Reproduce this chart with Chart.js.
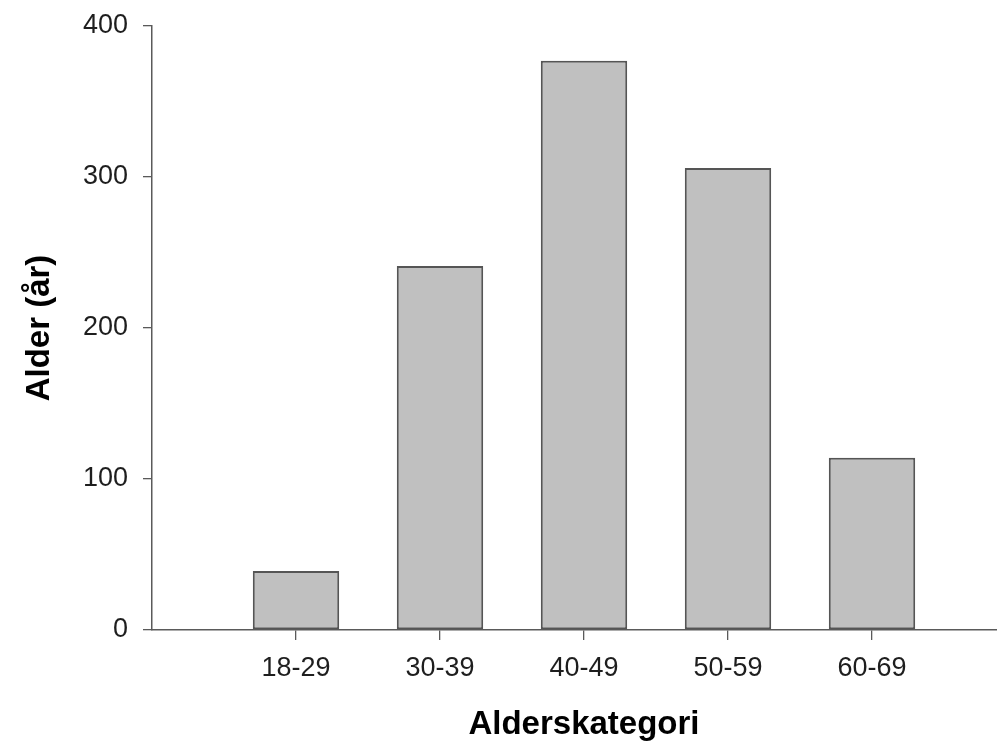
<!DOCTYPE html>
<html>
<head>
<meta charset="utf-8">
<script src="https://cdn.jsdelivr.net/npm/chart.js@4"></script>
<style>
  html, body { margin: 0; padding: 0; background: #ffffff; overflow: hidden; }
  #wrap { width: 997px; height: 745px; overflow: hidden; position: relative; }
  #box { width: 1016px; height: 745px; position: absolute; left: 0; top: 0; }
</style>
</head>
<body>
<div id="wrap"><div id="box"><canvas id="c"></canvas></div></div>
<script>
const categories = ['18-29', '30-39', '40-49', '50-59', '60-69'];
const values = [39, 241, 377, 306, 114];
const yTicks = [0, 100, 200, 300, 400];
const xTitle = 'Alderskategori';
const yTitle = 'Alder (år)';

const points = categories.map((c, i) => ({ x: i + 1, y: values[i] }));

new Chart(document.getElementById('c'), {
  type: 'bar',
  data: {
    datasets: [{
      data: points,
      backgroundColor: '#c0c0c0',
      borderColor: '#555555',
      borderWidth: 2,
      borderSkipped: false,
      barPercentage: 0.6,
      categoryPercentage: 1.0
    }]
  },
  options: {
    responsive: true,
    maintainAspectRatio: false,
    animation: false,
    layout: { padding: { top: 26, right: 0, bottom: 0, left: 0 } },
    plugins: { legend: { display: false }, tooltip: { enabled: false } },
    scales: {
      x: {
        type: 'linear',
        offset: false,
        min: 0,
        max: categories.length + 1,
        afterBuildTicks: (scale) => { scale.ticks = categories.map((c, i) => ({ value: i + 1 })); },
        afterFit: (scale) => { scale.height = 115; scale.paddingLeft = 0; scale.paddingRight = 0; },
        ticks: {
          autoSkip: false,
          maxRotation: 0,
          padding: 12,
          color: '#1e1e1e',
          font: { family: 'Liberation Sans, Arial, sans-serif', size: 27 },
          callback: (v) => categories[v - 1] || ''
        },
        grid: { offset: false, drawOnChartArea: false, drawTicks: true, tickLength: 10, color: '#5a5a5a', lineWidth: 1.3 },
        border: { display: true, color: '#5a5a5a', width: 1.5 },
        title: {
          display: true, text: xTitle, color: '#000000',
          font: { family: 'Liberation Sans, Arial, sans-serif', size: 33, weight: 'bold' },
          padding: { top: 0, bottom: 0 }
        }
      },
      y: {
        min: 0,
        max: 400,
        afterBuildTicks: (scale) => { scale.ticks = yTicks.map(v => ({ value: v })); },
        afterFit: (scale) => { scale.width = 152; scale.paddingTop = 0; scale.paddingBottom = 0; },
        ticks: {
          padding: 15,
          color: '#1e1e1e',
          font: { family: 'Liberation Sans, Arial, sans-serif', size: 27 }
        },
        grid: { drawOnChartArea: false, drawTicks: true, tickLength: 9, color: '#5a5a5a', lineWidth: 1.3 },
        border: { display: true, color: '#5a5a5a', width: 1.5 },
        title: {
          display: true, text: yTitle, color: '#000000',
          font: { family: 'Liberation Sans, Arial, sans-serif', size: 33, weight: 'bold' },
          padding: { top: 20, bottom: 0 }
        }
      }
    }
  }
});
</script>
</body>
</html>
